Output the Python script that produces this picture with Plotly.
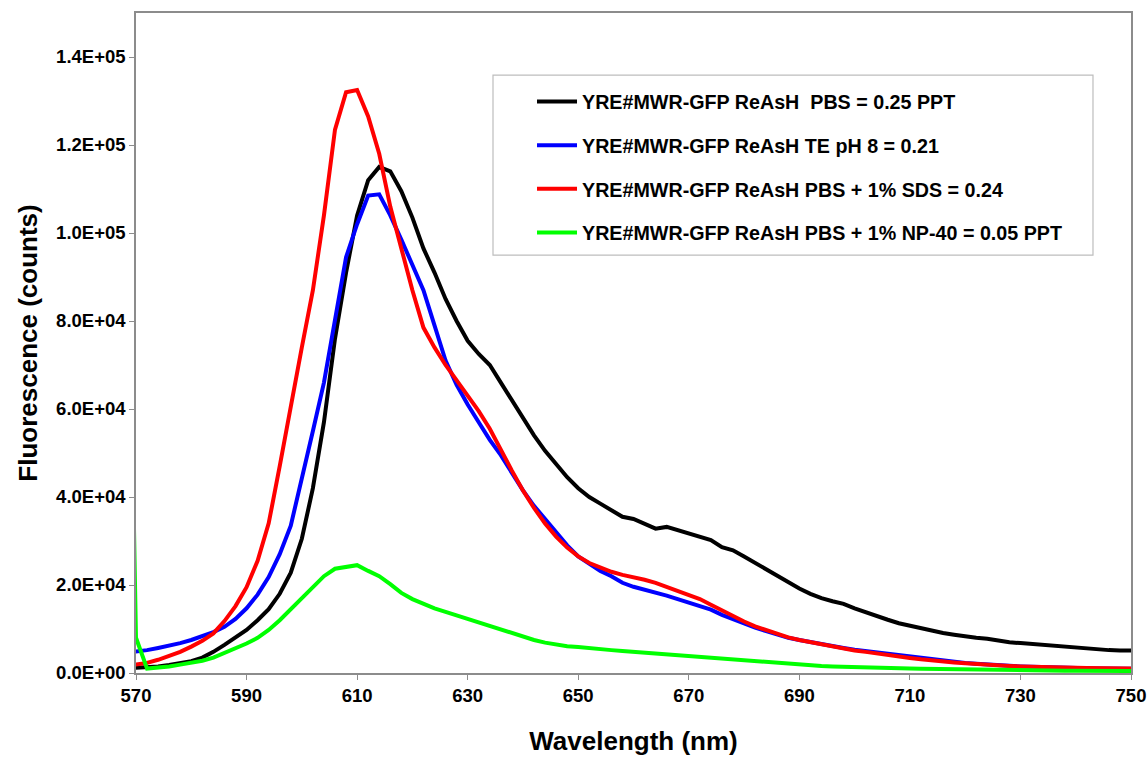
import plotly.graph_objects as go

# Emission spectra of YRE#MWR-GFP ReAsH in different buffers (2 nm steps)
wavelength = list(range(568, 752, 2))

pbs = [
    1000, 1100, 1300, 1500, 1800, 2200, 2700, 3500, 4800, 6400,
    8000, 9800, 12000, 14500, 18000, 22800, 30500, 42000, 57000, 76000,
    91000, 104000, 112000, 115000, 114000, 109500, 103500, 96500, 91000, 85000,
    80000, 75500, 72500, 70000, 66000, 62000, 58000, 54000, 50500, 47500,
    44500, 42000, 40000, 38500, 37000, 35500, 35000, 34000, 32800, 33200,
    32500, 31800, 31000, 30200, 28600, 27900, 26500, 25000, 23500, 22000,
    20500, 19200, 18000, 17000, 16300, 15700, 14700, 13800, 12800, 12100,
    11300, 10700, 10100, 9500, 9100, 8700, 8300, 8000, 7800, 7300,
    7000, 6800, 6600, 6300, 6000, 5800, 5600, 5500, 5300, 5200,
    5100, 5100,
]

te_ph8 = [
    4600, 4800, 5200, 5700, 6200, 6800, 7500, 8300, 9300, 10500,
    12300, 14700, 17800, 21800, 27000, 33500, 44000, 55000, 66000, 80000,
    94500, 102000, 108500, 108800, 104000, 98500, 92500, 87000, 79000, 71000,
    65500, 61000, 57000, 53000, 49500, 45500, 41500, 38000, 35000, 32000,
    29000, 26500, 24800, 23200, 22000, 20500, 19600, 19000, 18300, 17600,
    16800, 16000, 15400, 14400, 13200, 12200, 11200, 10300, 9500, 8700,
    8000, 7500, 7000, 6500, 6100, 5700, 5300, 5000, 4600, 4200,
    3900, 3600, 3300, 3000, 2700, 2500, 2300, 2100, 1900, 1750,
    1600, 1500, 1400, 1300, 1250, 1200, 1150, 1100, 1050, 1000,
    1000, 950,
]

pbs_sds = [
    1600, 1900, 2300, 3000, 3800, 4800, 6000, 7300, 9000, 11800,
    15200, 19500, 25500, 34000, 47000, 61000, 74000, 87000, 104000, 123500,
    132000, 132500, 126500, 118000, 106000, 96500, 87000, 78500, 74000, 70000,
    66500, 63000, 59500, 55500, 50500, 46000, 41500, 37500, 34000, 31000,
    28500, 26500, 25000, 24000, 23000, 22300, 21800, 21200, 20500, 19600,
    18800, 17800, 16800, 15500, 14200, 12900, 11700, 10600, 9700, 8900,
    8100, 7500, 7000, 6500, 6000, 5500, 5100, 4800, 4400, 4000,
    3700, 3400, 3100, 2800, 2600, 2400, 2200, 2000, 1850, 1700,
    1600, 1500, 1400, 1350, 1300, 1250, 1200, 1150, 1100, 1100,
    1050, 1050,
]

pbs_np40 = [
    145000, 8000, 1000, 1200, 1500, 1900, 2300, 2800, 3500, 4500,
    5500, 6700, 8000, 9800, 12000, 14500, 17000, 19800, 22000, 23700,
    24200, 24500, 23200, 22000, 20200, 18200, 16800, 15700, 14700, 13900,
    13100, 12300, 11400, 10600, 9700, 8900, 8100, 7500, 6900, 6400,
    6100, 5900, 5600, 5400, 5200, 5000, 4800, 4600, 4400, 4200,
    4000, 3800, 3600, 3400, 3200, 3000, 2800, 2600, 2400, 2200,
    2000, 1850, 1700, 1600, 1500, 1400, 1300, 1250, 1200, 1100,
    1050, 1000, 950, 900, 850, 800, 760, 720, 690, 660,
    630, 600, 580, 560, 540, 520, 500, 490, 480, 470,
    460, 450,
]

series_names = [
    "YRE#MWR-GFP ReAsH\u00a0 PBS = 0.25 PPT",
    "YRE#MWR-GFP ReAsH TE pH 8 = 0.21",
    "YRE#MWR-GFP ReAsH PBS + 1% SDS = 0.24",
    "YRE#MWR-GFP ReAsH PBS + 1% NP-40 = 0.05 PPT",
]
series_values = [pbs, te_ph8, pbs_sds, pbs_np40]
series_colors = ["#000000", "#0000FF", "#FF0000", "#00FF00"]

x_ticks = list(range(570, 751, 20))
y_ticks = [0, 20000, 40000, 60000, 80000, 100000, 120000, 140000]
y_tick_labels = ["0.0E+00", "2.0E+04", "4.0E+04", "6.0E+04",
                 "8.0E+04", "1.0E+05", "1.2E+05", "1.4E+05"]

FONT = "Liberation Sans, Arial, sans-serif"

fig = go.Figure()
for i, (name, vals, col) in enumerate(zip(series_names, series_values, series_colors)):
    fig.add_trace(go.Scatter(
        x=wavelength, y=vals, mode="lines", name=name,
        legendgroup=f"g{i}",
        line=dict(color=col, width=4),
    ))

fig.update_layout(
    width=1148, height=758,
    margin=dict(l=136, r=17, t=13, b=85),
    paper_bgcolor="white", plot_bgcolor="white",
    font=dict(family=FONT, color="#000000", size=18, weight="bold"),
    showlegend=True,
    legend=dict(
        x=0.398, y=0.895, xanchor="left", yanchor="top",
        bgcolor="rgba(0,0,0,0)", borderwidth=0,
        font=dict(family=FONT, size=19.7, weight="bold", color="#000000"),
        tracegroupgap=15, itemwidth=40,
    ),
    shapes=[dict(
        type="rect", xref="paper", yref="paper",
        x0=0.3588, x1=0.9618, y0=0.633, y1=0.906,
        line=dict(color="#BDBDBD", width=1.2), fillcolor="rgba(0,0,0,0)",
        layer="below",
    )],
    xaxis=dict(
        range=[570, 750], tickvals=x_ticks, automargin=False,
        showgrid=False, zeroline=False,
        showline=True, mirror=True, linecolor="#8C8C8C", linewidth=1.5,
        ticks="outside", ticklen=5, tickcolor="#8C8C8C",
        tickfont=dict(family=FONT, size=18.5, weight="bold"),
        title=dict(text="Wavelength (nm)", standoff=27,
                   font=dict(family=FONT, size=26, weight="bold")),
    ),
    yaxis=dict(
        range=[0, 150000], tickvals=y_ticks, ticktext=y_tick_labels,
        automargin=False,
        showgrid=False, zeroline=False,
        showline=True, mirror=True, linecolor="#8C8C8C", linewidth=1.5,
        ticks="outside", ticklen=5, tickcolor="#8C8C8C",
        tickfont=dict(family=FONT, size=18.5, weight="bold"),
        title=dict(text="Fluorescence (counts)", standoff=11,
                   font=dict(family=FONT, size=26, weight="bold")),
    ),
)

fig.write_html("out.html")
